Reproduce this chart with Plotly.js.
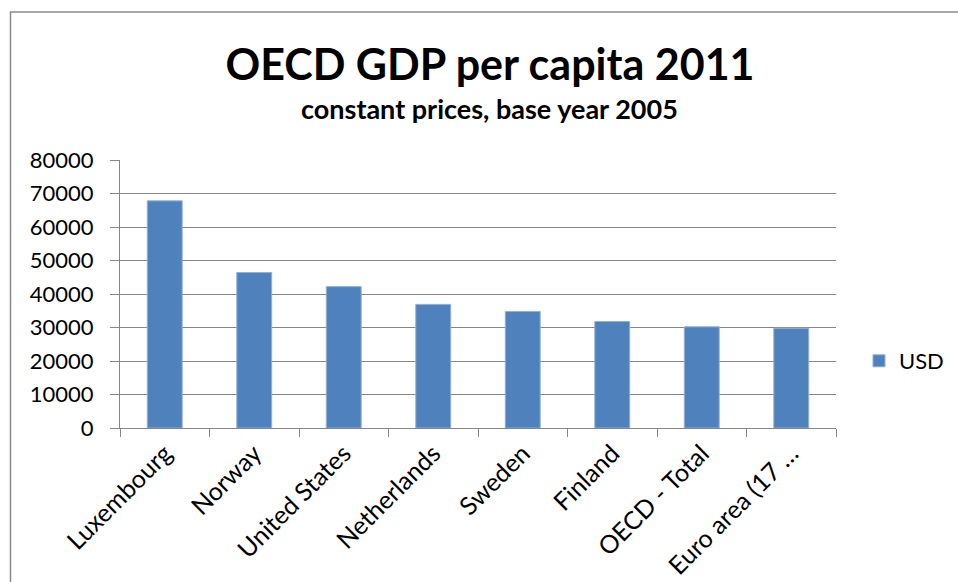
<!DOCTYPE html>
<html>
<head>
<meta charset="utf-8">
<script src="https://cdn.plot.ly/plotly-3.0.1.min.js"></script>
<style>
html,body{margin:0;padding:0;background:#fff;overflow:hidden;}
#chart{width:958px;height:582px;}
</style>
</head>
<body>
<div id="chart"></div>
<script>
const categories = ["Luxembourg", "Norway", "United States", "Netherlands", "Sweden", "Finland", "OECD - Total", "Euro area (17 \u2026"];
const usdValues = [67800, 46400, 42200, 36900, 34800, 31800, 30200, 29800];
const seriesName = "USD";
const yTicks = [0, 10000, 20000, 30000, 40000, 50000, 60000, 70000, 80000];

const W = 958, H = 582;
const L = 120, R = 122, T = 160, B = 154;
const pw = W - L - R, ph = H - T - B;
const px = v => (v - L) / pw;
const py = v => (H - B - v) / ph;

const font = "Lato, 'Open Sans', sans-serif";
const gray = "#868686";

const trace = {
  type: "bar",
  x: categories,
  y: usdValues,
  name: seriesName,
  marker: {color: "#4F81BD", line: {color: "#8fb0d8", width: 1}},
  width: 0.39,
  hoverinfo: "x+y"
};

const layout = {
  width: W, height: H,
  margin: {l: L, r: R, t: T, b: B, pad: 0, autoexpand: false},
  paper_bgcolor: "#ffffff",
  plot_bgcolor: "#ffffff",
  font: {family: font, color: "#000000", size: 22},
  title: {
    text: "<b>OECD GDP per capita 2011</b>",
    font: {family: font, size: 43, color: "#000000"},
    xref: "container", yref: "container",
    x: 490 / W, xanchor: "center",
    y: 1 - 65 / H, yanchor: "middle"
  },
  annotations: [{
    text: "<b>constant prices, base year 2005</b>",
    xref: "paper", yref: "paper",
    x: px(489.5), y: py(109),
    xanchor: "center", yanchor: "middle",
    showarrow: false,
    font: {family: font, size: 27, color: "#000000"}
  }],
  xaxis: {
    type: "category",
    range: [-0.5, 7.5],
    showline: true, linecolor: gray, linewidth: 1,
    ticks: "outside", tickson: "boundaries", ticklen: 8, tickcolor: gray, tickwidth: 1,
    tickangle: -45,
    tickfont: {family: font, size: 25, color: "#000000"},
    showgrid: false,
    automargin: false,
    fixedrange: true
  },
  yaxis: {
    range: [0, 80000],
    tickvals: yTicks,
    ticktext: yTicks.map(String),
    showline: true, linecolor: gray, linewidth: 1,
    ticks: "outside", ticklen: 9, tickcolor: gray, tickwidth: 1,
    ticklabelstandoff: 12,
    tickfont: {family: font, size: 22, color: "#000000"},
    showgrid: true, gridcolor: gray, gridwidth: 1,
    zeroline: false,
    automargin: false,
    fixedrange: true
  },
  showlegend: true,
  legend: {
    x: px(859), y: py(361),
    xanchor: "left", yanchor: "middle",
    font: {family: font, size: 22, color: "#000000"},
    bgcolor: "rgba(0,0,0,0)"
  },
  shapes: [{
    type: "path",
    xref: "paper", yref: "paper",
    path: `M ${px(10.5)} ${py(600)} L ${px(10.5)} ${py(12)} L ${px(970)} ${py(12)}`,
    line: {color: "#8a8a8a", width: 1.5},
    layer: "above"
  }],
  bargap: 0.61
};

Plotly.newPlot("chart", [trace], layout, {displayModeBar: false, staticPlot: true});
</script>
</body>
</html>
